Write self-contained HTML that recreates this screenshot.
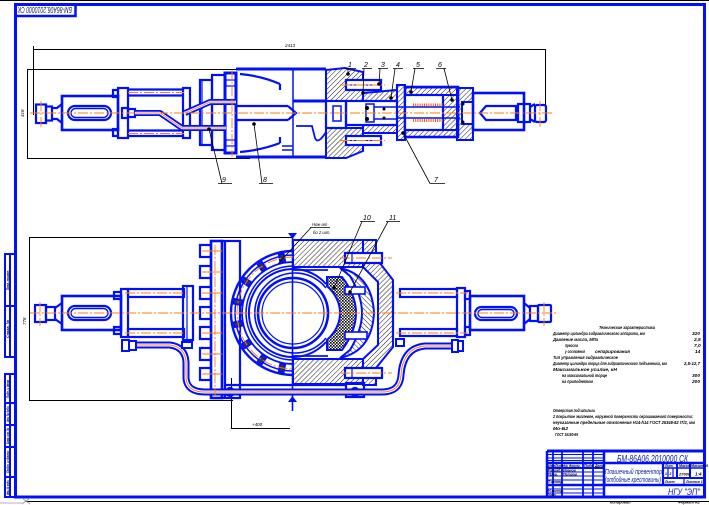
<!DOCTYPE html>
<html><head><meta charset="utf-8"><style>
html,body{margin:0;padding:0;background:#fff;}
svg{display:block;}
text{font-family:"Liberation Sans",sans-serif;font-style:italic;}
</style></head><body>
<svg width="709" height="505" viewBox="0 0 709 505" xmlns="http://www.w3.org/2000/svg">
<defs>
<pattern id="h" width="3.5" height="3.5" patternUnits="userSpaceOnUse" patternTransform="rotate(45)"><line x1="0" y1="0" x2="0" y2="3.5" stroke="#000" stroke-width="0.9"/></pattern>
<pattern id="h2" width="3.5" height="3.5" patternUnits="userSpaceOnUse" patternTransform="rotate(-45)"><line x1="0" y1="0" x2="0" y2="3.5" stroke="#000" stroke-width="0.9"/></pattern>
<pattern id="ck" width="3" height="3" patternUnits="userSpaceOnUse"><rect width="3" height="3" fill="#fff"/><rect width="1.6" height="1.6" fill="#000"/><rect x="1.5" y="1.5" width="1.5" height="1.5" fill="#222"/></pattern>
</defs>

<!-- FRAME -->
<line x1="0" y1="0.5" x2="709" y2="0.5" stroke="#000" stroke-width="1"/>
<rect x="15.5" y="4.5" width="689" height="492.5" fill="none" stroke="#0010ff" stroke-width="3"/>
<line x1="25" y1="501.5" x2="709" y2="501.5" stroke="#000" stroke-width="1"/>
<path d="M22,498 L30,504 M30,498 L22,504" stroke="#999" stroke-width="0.8"/>
<line x1="0" y1="503" x2="22" y2="503" stroke="#999" stroke-width="0.8"/>

<!-- stamp -->
<rect x="15.5" y="4.5" width="60" height="11.5" fill="none" stroke="#0010ff" stroke-width="2.5"/>
<text x="45" y="13" font-size="8" fill="#102070" text-anchor="middle" textLength="54" lengthAdjust="spacingAndGlyphs" transform="rotate(180 45 10)">БМ-86А06.2010000 СК</text>

<!-- left strips -->
<g stroke="#0010ff" stroke-width="2" fill="none">
<rect x="5" y="254" width="10" height="103"/>
<line x1="10" y1="254" x2="10" y2="357"/>
<line x1="5" y1="306" x2="15" y2="306"/>
<rect x="5" y="374" width="10" height="123"/>
<line x1="10" y1="374" x2="10" y2="497"/>
<line x1="5" y1="403" x2="15" y2="403"/>
<line x1="5" y1="425" x2="15" y2="425"/>
<line x1="5" y1="447" x2="15" y2="447"/>
<line x1="5" y1="477" x2="15" y2="477"/>
</g>
<g font-size="4" fill="#000" font-weight="bold">
<text transform="translate(9,290) rotate(-90)" textLength="20" lengthAdjust="spacingAndGlyphs">Перв. примен.</text>
<text transform="translate(9,338) rotate(-90)" textLength="18" lengthAdjust="spacingAndGlyphs">Справ. №</text>
<text transform="translate(9,398) rotate(-90)" textLength="18" lengthAdjust="spacingAndGlyphs">Подп. и дата</text>
<text transform="translate(9,422) rotate(-90)" textLength="16" lengthAdjust="spacingAndGlyphs">Инв. № дубл.</text>
<text transform="translate(9,444) rotate(-90)" textLength="16" lengthAdjust="spacingAndGlyphs">Взам. инв. №</text>
<text transform="translate(9,473) rotate(-90)" textLength="22" lengthAdjust="spacingAndGlyphs">Подп. и дата</text>
<text transform="translate(9,495) rotate(-90)" textLength="15" lengthAdjust="spacingAndGlyphs">Инв. № подл.</text>
</g>

<!-- ============ TOP VIEW ============ -->
<g stroke="#000" stroke-width="1" fill="none">
<line x1="33" y1="49.5" x2="545" y2="49.5"/>
<line x1="33.5" y1="46" x2="33.5" y2="115"/>
<line x1="545.5" y1="49" x2="545.5" y2="122"/>
<line x1="27.5" y1="70" x2="27.5" y2="158"/>
<line x1="27" y1="69.5" x2="250" y2="69.5"/>
<line x1="27" y1="158.5" x2="250" y2="158.5"/>
</g>
<text x="290" y="47" font-size="4.5" fill="#000" text-anchor="middle">2413</text>
<text transform="translate(24,117) rotate(-90)" font-size="4.5" fill="#000">418</text>

<g stroke="#0010ff" stroke-width="2" fill="url(#h)">
<path d="M326,70 L345,68 L363,72 L363,80 L346,80 L346,90 L363,90 L363,101 L326,101 Z"/>
<path d="M326,128 L363,128 L363,136 L346,136 L346,145 L363,145 L363,151 L346,158 L326,158 Z"/>
<path d="M363,93 L397,90 L397,101 L363,101 Z"/>
<path d="M363,125 L397,125 L397,133 L363,133 Z"/>
<rect x="405" y="87.5" width="52" height="7.5"/>
<rect x="405" y="130" width="52" height="7"/>
<rect x="443" y="95" width="14" height="35"/>
<path d="M457,88 L473,88 L473,102 L462,102 L462,124 L473,124 L473,140 L457,140 Z"/>
<rect x="397" y="85" width="8" height="55"/>
</g>

<g stroke="#0010ff" stroke-width="2.2" fill="none">
<rect x="36" y="104.5" width="10" height="18.5"/>
<rect x="46" y="106.5" width="6" height="14"/>
<path d="M52,108 L57,108 L62,104 M52,119 L57,119 L62,123"/>
<rect x="62" y="96" width="56" height="34" stroke-width="2.6"/>
<rect x="68" y="106" width="43" height="14" rx="7"/>
<rect x="71" y="108.5" width="37" height="9" rx="4.5" stroke-width="1.4"/>
<rect x="118" y="88" width="10" height="50"/>
<rect x="113" y="90" width="5" height="7"/>
<rect x="113" y="129" width="5" height="7"/>
<line x1="128" y1="89.5" x2="184" y2="89.5"/>
<line x1="128" y1="95.5" x2="184" y2="95.5"/>
<line x1="128" y1="130.5" x2="184" y2="130.5"/>
<line x1="128" y1="136" x2="184" y2="136"/>
<rect x="183" y="88" width="7" height="50"/>
<rect x="200" y="80" width="12" height="65"/>
<line x1="202" y1="80" x2="202" y2="145" stroke-width="1.2"/>
<rect x="212" y="75" width="13" height="75"/>
<rect x="225" y="73" width="11" height="80" stroke-width="3"/>
<rect x="226" y="80" width="9" height="6" stroke-width="1.2"/>
<rect x="226" y="140" width="9" height="6" stroke-width="1.2"/>
<rect x="122" y="108" width="6" height="10"/>
<rect x="128" y="109" width="7" height="8"/>
<path d="M236,69 L326,69" stroke-width="3"/>
<path d="M236,157 L326,157" stroke-width="3"/>
<path d="M240,74 Q262,76 280,84"/>
<path d="M240,152 Q262,150 280,143"/>
<line x1="236" y1="106" x2="288" y2="106"/>
<line x1="236" y1="120" x2="288" y2="120"/>
<path d="M288,106 L296,113 L288,120"/>
<path d="M280,84 L280,90 M280,143 L280,137"/>
<line x1="293" y1="69" x2="293" y2="157" stroke-width="1.5"/>
<path d="M293,101 L326,101" stroke-width="3"/>
<path d="M296,126 L312,126 L315,138 Q318,145 326,132" stroke-width="1.8"/>
<path d="M282,146 L293,146 M282,150 L293,150" stroke-width="1.5"/>
<rect x="326" y="101" width="20" height="27"/>
<rect x="333" y="106" width="8" height="15" stroke-width="1.5"/>
<rect x="346" y="80" width="35" height="10"/>
<line x1="350" y1="85" x2="378" y2="85" stroke-width="1"/>
<rect x="346" y="136" width="35" height="9"/>
<line x1="350" y1="140.5" x2="378" y2="140.5" stroke-width="1"/>
<rect x="346" y="101" width="51" height="24"/>
<rect x="366" y="104" width="8" height="18" stroke-width="1.5"/>
<line x1="374" y1="107" x2="397" y2="107" stroke-width="1.5"/>
<line x1="374" y1="119" x2="397" y2="119" stroke-width="1.5"/>
<rect x="405" y="87" width="53" height="50" stroke-width="2.6"/>
<rect x="405" y="95" width="38" height="35" fill="#fff"/>
<line x1="397" y1="107" x2="460" y2="107" stroke-width="1.6"/>
<line x1="397" y1="118" x2="460" y2="118" stroke-width="1.6"/>
<rect x="473" y="93" width="51" height="37" stroke-width="2.6"/>
<path d="M480,113 L486,106 L516,106 L516,120 L486,120 Z"/>
<rect x="518" y="104" width="12" height="18"/>
<path d="M530,107 L535,104 M530,119 L535,122"/>
<rect x="535" y="105" width="11" height="17" rx="2"/>
</g>
<g stroke="#ff5000" stroke-width="3" stroke-dasharray="1,1.2">
<line x1="413" y1="105" x2="443" y2="105"/>
<line x1="413" y1="120.5" x2="443" y2="120.5"/>
</g>
<g fill="none" stroke-linejoin="round">
<path d="M135,113 L160,113 L182,128 L226,128" stroke="#0010ff" stroke-width="6"/>
<path d="M135,113 L160,113 L182,128 L226,128" stroke="#fff" stroke-width="2.4"/>
<path d="M135,113 L160,113 L182,128 L226,128" stroke="#ff7f00" stroke-width="0.9"/>
<path d="M185,113 L210,102 L236,102" stroke="#0010ff" stroke-width="6"/>
<path d="M185,113 L210,102 L236,102" stroke="#fff" stroke-width="2.4"/>
<path d="M185,113 L210,102 L236,102" stroke="#ff7f00" stroke-width="0.9"/>
</g>
<g fill="#000">
<circle cx="367" cy="108" r="2"/><circle cx="367" cy="119" r="2"/>
<circle cx="384" cy="109" r="1.5"/><circle cx="384" cy="118" r="1.5"/>
<circle cx="463" cy="104" r="1.5"/><circle cx="463" cy="122" r="1.5"/>
</g>

<!-- ============ BOTTOM VIEW ============ -->
<g stroke="#000" stroke-width="1" fill="none">
<line x1="29.5" y1="237" x2="29.5" y2="400"/>
<line x1="29" y1="237.5" x2="292" y2="237.5"/>
<line x1="29" y1="400.5" x2="233" y2="400.5"/>
<line x1="231.5" y1="378" x2="231.5" y2="429"/>
<line x1="231" y1="428.5" x2="290" y2="428.5"/>
</g>
<text transform="translate(26,325) rotate(-90)" font-size="4.5" fill="#000">778</text>
<text x="252" y="426" font-size="4.5" fill="#000">+400</text>

<g stroke="#0010ff" stroke-width="2" fill="url(#h)">
<rect x="293" y="240" width="70" height="27"/>
<rect x="293" y="359" width="70" height="25"/>
<path d="M363,240 L376,240 L376,258 L393,280 L393,347 L376,368 L376,385 L363,385 L363,359 L378,345 L378,282 L363,267 Z"/>
<path d="M340,268 Q372,275 374,313 Q372,351 340,358 L350,350 Q362,330 362,313 Q362,296 350,276 Z" fill="url(#h2)"/>
</g>
<path d="M327,277 L342,277 Q356,295 356,313 Q356,331 342,350 L327,350 L327,340 Q340,328 340,313 Q340,298 327,286 Z" fill="url(#ck)" stroke="#0010ff" stroke-width="2"/>

<g stroke="#0010ff" stroke-width="2.2" fill="none">
<rect x="35" y="305" width="11" height="17"/>
<rect x="46" y="307" width="9" height="13"/>
<path d="M55,308 L62,303 M55,319 L62,324"/>
<rect x="62" y="296" width="59" height="34" stroke-width="2.6"/>
<rect x="68" y="306" width="43" height="14" rx="7"/>
<rect x="71" y="308.5" width="37" height="9" rx="4.5" stroke-width="1.4"/>
<rect x="121" y="289" width="7" height="48"/>
<rect x="114" y="292" width="7" height="7"/>
<rect x="114" y="327" width="7" height="7"/>
<rect x="128" y="289" width="56" height="8"/>
<rect x="128" y="329" width="56" height="8"/>
<rect x="183" y="286" width="10" height="54"/>
<line x1="187" y1="286" x2="187" y2="340" stroke-width="1.2"/>
<rect x="200" y="245" width="11" height="12"/>
<rect x="200" y="266" width="11" height="12"/>
<rect x="200" y="287" width="11" height="12"/>
<rect x="200" y="307" width="11" height="12"/>
<rect x="200" y="327" width="11" height="12"/>
<rect x="200" y="348" width="11" height="12"/>
<rect x="200" y="368" width="11" height="12"/>
<rect x="211" y="241" width="11" height="157" stroke-width="2.6"/>
<rect x="222" y="241" width="18" height="157"/>
<line x1="225" y1="241" x2="225" y2="398"/>
<line x1="225" y1="385" x2="347" y2="385"/>
<path d="M293,251 A62,62 0 0 0 293,375" stroke-width="2.4"/>
<path d="M293,255 A58,58 0 0 0 293,371" stroke-width="1.5"/>
<path d="M293,262 A51,51 0 0 0 293,364" stroke-width="1.8"/>
<path d="M293,266 A47,47 0 0 0 293,360" stroke-width="1.5"/>
<path d="M326,284 A44,44 0 1 0 326,342" stroke-width="2"/>
<path d="M326,288 A40,40 0 1 0 326,338" stroke-width="1.6"/>
<circle cx="293" cy="313" r="35" stroke-width="2.6" fill="#fff"/>
<circle cx="293" cy="313" r="31" stroke-width="1.2"/>
<line x1="293" y1="270" x2="328" y2="270" stroke-width="1.8"/>
<line x1="293" y1="356" x2="328" y2="356" stroke-width="1.8"/>
<line x1="292.5" y1="235" x2="292.5" y2="411" stroke-width="1.6"/>
<rect x="345" y="253" width="37" height="10" fill="#fff"/>
<line x1="352" y1="253" x2="352" y2="263" stroke-width="1.2"/>
<rect x="345" y="368" width="37" height="10" fill="#fff"/>
<line x1="352" y1="368" x2="352" y2="378" stroke-width="1.2"/>
<rect x="345" y="287" width="20" height="7" fill="#fff" stroke-width="1.6"/>
<rect x="345" y="332" width="22" height="7" fill="#fff" stroke-width="1.6"/>
<rect x="346" y="383" width="18" height="14"/>
<line x1="393" y1="285" x2="393" y2="340"/>
<rect x="400" y="289" width="57" height="8"/>
<rect x="400" y="329" width="57" height="7"/>
<rect x="457" y="288" width="8" height="49"/>
<rect x="465" y="291" width="5" height="8"/>
<rect x="465" y="327" width="5" height="8"/>
<rect x="470" y="296" width="54" height="34" stroke-width="2.6"/>
<rect x="475" y="307" width="42" height="13" rx="6.5"/>
<rect x="478" y="309.5" width="36" height="8" rx="4" stroke-width="1.4"/>
<path d="M524,303 L530,308 M524,324 L530,319"/>
<rect x="530" y="306" width="8" height="15"/>
<rect x="538" y="305" width="13" height="17" rx="1"/>
<circle cx="230" cy="392" r="4" fill="#fff"/>
<circle cx="355" cy="392" r="4" fill="#fff"/>
</g>
<g stroke="#0010ff" stroke-width="1.8" fill="#334">
<rect x="-4" y="-2.5" width="8" height="5" transform="translate(282,258) rotate(-101)"/>
<rect x="-4" y="-2.5" width="8" height="5" transform="translate(262,266.5) rotate(-124)"/>
<rect x="-4" y="-2.5" width="8" height="5" transform="translate(246.5,282) rotate(-146)"/>
<rect x="-4" y="-2.5" width="8" height="5" transform="translate(238,302) rotate(-169)"/>
<rect x="-4" y="-2.5" width="8" height="5" transform="translate(238,324) rotate(-191)"/>
<rect x="-4" y="-2.5" width="8" height="5" transform="translate(246.5,344) rotate(-214)"/>
<rect x="-4" y="-2.5" width="8" height="5" transform="translate(262,359.5) rotate(-236)"/>
<rect x="-4" y="-2.5" width="8" height="5" transform="translate(282,368) rotate(-259)"/>
</g>
<path d="M288,233 L297,233 L292.5,239 Z" fill="#0010ff"/>
<path d="M288,402 L297,402 L292.5,396 Z" fill="#0010ff"/>

<g fill="none" stroke-linejoin="round">
<path d="M135,345 L170,345 Q185,347 186,362 L186,378 Q187,392 205,392 L382,392 Q400,392 401,375 Q403,348 425,346 L453,346" stroke="#0010ff" stroke-width="7"/>
<path d="M135,345 L170,345 Q185,347 186,362 L186,378 Q187,392 205,392 L382,392 Q400,392 401,375 Q403,348 425,346 L453,346" stroke="#fff" stroke-width="3"/>
<path d="M135,345 L170,345 Q185,347 186,362 L186,378 Q187,392 205,392 L382,392 Q400,392 401,375 Q403,348 425,346 L453,346" stroke="#ff7f00" stroke-width="1"/>
</g>
<g stroke="#0010ff" stroke-width="2" fill="#fff">
<rect x="122" y="340" width="7" height="11"/>
<rect x="129" y="341" width="7" height="9"/>
<rect x="452" y="340" width="6" height="12"/>
<rect x="458" y="341" width="5" height="10"/>
<rect x="182" y="342" width="10" height="6"/>
<rect x="396" y="339" width="8" height="7"/>
</g>

<g stroke="#ff7f00" stroke-width="0.9" stroke-dasharray="10,2,2,2" fill="none">
<line x1="30" y1="113" x2="552" y2="113"/>
<line x1="30" y1="313" x2="556" y2="313"/>
<line x1="232" y1="70" x2="232" y2="157"/>
<line x1="41" y1="101" x2="41" y2="127"/>
<line x1="540" y1="101" x2="540" y2="127"/>
<line x1="40" y1="302" x2="40" y2="326"/>
<line x1="544" y1="302" x2="544" y2="326"/>
<line x1="128" y1="92.5" x2="184" y2="92.5"/>
<line x1="128" y1="133.5" x2="184" y2="133.5"/>
<line x1="125" y1="293" x2="188" y2="293"/>
<line x1="125" y1="333" x2="188" y2="333"/>
<line x1="396" y1="293" x2="468" y2="293"/>
<line x1="396" y1="333" x2="468" y2="333"/>
<line x1="215" y1="245" x2="215" y2="396"/>
<path d="M293,257 A56,56 0 0 0 293,369"/>
<line x1="340" y1="258" x2="392" y2="258"/>
<line x1="340" y1="373" x2="392" y2="373"/>
<line x1="340" y1="85" x2="385" y2="85"/>
<line x1="340" y1="140.5" x2="385" y2="140.5"/>
</g>
<g stroke="#ff7f00" stroke-width="0.9">
<line x1="202" y1="251" x2="222" y2="251"/><line x1="202" y1="272" x2="222" y2="272"/>
<line x1="202" y1="293" x2="222" y2="293"/><line x1="202" y1="333" x2="222" y2="333"/>
<line x1="202" y1="354" x2="222" y2="354"/><line x1="202" y1="374" x2="222" y2="374"/>
</g>

<g stroke="#000" stroke-width="0.8" fill="none">
<path d="M345,68.5 L356,68.5 M348,68.5 L348,74"/>
<path d="M362,68.5 L372,68.5 M364,68.5 L363,93"/>
<path d="M378,68.5 L388,68.5 M380,68.5 L379,84"/>
<path d="M393,68.5 L403,68.5 M395,68.5 L391,98"/>
<path d="M413,68.5 L424,68.5 M415,68.5 L411,92"/>
<path d="M436,68.5 L446,68.5 M444,68.5 L452,100"/>
<path d="M430,183.5 L445,183.5 M430,183.5 L403,133"/>
<path d="M218,183.5 L232,183.5 M222,183.5 L209,129"/>
<path d="M259,183.5 L273,183.5 M262,183.5 L254,124"/>
<path d="M360,221.5 L375,221.5 M362,221.5 L334,288"/>
<path d="M386,221.5 L400,221.5 M388,221.5 L350,292"/>
<path d="M310,227.5 L330,227.5 M311,227.5 L278,264"/>
</g>
<g fill="#000">
<circle cx="348" cy="74" r="1.8"/><circle cx="363" cy="93" r="1.8"/><circle cx="379" cy="84" r="1.8"/>
<circle cx="391" cy="98" r="1.8"/><circle cx="411" cy="92" r="1.8"/><circle cx="452" cy="100" r="1.8"/>
<circle cx="403" cy="133" r="1.8"/><circle cx="209" cy="129" r="1.8"/><circle cx="254" cy="124" r="1.8"/>
<circle cx="334" cy="288" r="1.8"/><circle cx="350" cy="292" r="1.8"/>
</g>
<g font-size="7" fill="#000">
<text x="348" y="67">1</text><text x="364" y="67">2</text><text x="381" y="67">3</text>
<text x="396" y="67">4</text><text x="416" y="67">5</text><text x="438" y="67">6</text>
<text x="434" y="182">7</text><text x="222" y="182">9</text><text x="263" y="182">8</text>
<text x="363" y="220">10</text><text x="389" y="220">11</text>
</g>
<text x="312" y="226" font-size="4.2" fill="#000">Нож-ат</text>
<text x="313" y="234" font-size="4.2" fill="#000">бо 2 шт.</text>

<g font-size="4.8" fill="#000" font-weight="bold">
<text x="599" y="329" textLength="56" lengthAdjust="spacingAndGlyphs">Технические характеристики</text>
<text x="553" y="335" textLength="92" lengthAdjust="spacingAndGlyphs">Диаметр цилиндра гидравлического аппарата, мм</text>
<text x="692" y="335">320</text>
<text x="553" y="341" textLength="45" lengthAdjust="spacingAndGlyphs">Давление масла, МПа</text>
<text x="694" y="341">2,5</text>
<text x="565" y="347" textLength="13" lengthAdjust="spacingAndGlyphs">прессов</text>
<text x="694" y="347">7,0</text>
<text x="565" y="353" textLength="20" lengthAdjust="spacingAndGlyphs">у состояния</text>
<text x="595" y="353" textLength="35" lengthAdjust="spacingAndGlyphs">сепарирования</text>
<text x="695" y="353">14</text>
<text x="553" y="359" textLength="65" lengthAdjust="spacingAndGlyphs">Тип управления гидравлическое</text>
<text x="553" y="365" textLength="114" lengthAdjust="spacingAndGlyphs">Диаметр цилиндра торца для гидравлического подъемника, мм</text>
<text x="684" y="365" textLength="16" lengthAdjust="spacingAndGlyphs">2,5-12,7</text>
<text x="553" y="371" textLength="64" lengthAdjust="spacingAndGlyphs">Максимальное усилие, кН</text>
<text x="562" y="377" textLength="45" lengthAdjust="spacingAndGlyphs">на максимальной торце</text>
<text x="692" y="377">300</text>
<text x="562" y="383" textLength="31" lengthAdjust="spacingAndGlyphs">на приподнятом</text>
<text x="692" y="383">200</text>
</g>
<g font-size="4.8" fill="#000" font-weight="bold">
<text x="553" y="412" textLength="42" lengthAdjust="spacingAndGlyphs">Отверстия под шпильки</text>
<text x="553" y="418" textLength="140" lengthAdjust="spacingAndGlyphs">2 покрытие эмалевое, наружной поверхности окрашиваемой поверхности:</text>
<text x="553" y="424" textLength="142" lengthAdjust="spacingAndGlyphs">неуказанные предельные отклонения Н14-h14 ГОСТ 25346-82 IT/2, мм</text>
<text x="553" y="430" textLength="15" lengthAdjust="spacingAndGlyphs">Мо-Б2</text>
<text x="555" y="436" textLength="23" lengthAdjust="spacingAndGlyphs">ГОСТ 15150-69</text>
</g>

<g stroke="#0010ff" fill="none">
<line x1="547" y1="451" x2="705" y2="451" stroke-width="3"/>
<line x1="547" y1="451" x2="547" y2="497" stroke-width="2.5"/>
<line x1="553" y1="451" x2="553" y2="497" stroke-width="1.8"/>
<line x1="562" y1="451" x2="562" y2="497" stroke-width="1.8"/>
<line x1="583" y1="451" x2="583" y2="497" stroke-width="1.8"/>
<line x1="593" y1="451" x2="593" y2="497" stroke-width="1.8"/>
<line x1="604" y1="451" x2="604" y2="497" stroke-width="2.5"/>
<line x1="547" y1="463" x2="705" y2="463" stroke-width="2.5"/>
<line x1="547" y1="485" x2="705" y2="485" stroke-width="2.5"/>
<line x1="663" y1="463" x2="663" y2="485" stroke-width="2.2"/>
<line x1="668" y1="468" x2="668" y2="478" stroke-width="1.2"/>
<line x1="673" y1="468" x2="673" y2="478" stroke-width="1.2"/>
<line x1="677" y1="463" x2="677" y2="478" stroke-width="2"/>
<line x1="690" y1="463" x2="690" y2="478" stroke-width="2"/>
<line x1="663" y1="468" x2="705" y2="468" stroke-width="1.5"/>
<line x1="663" y1="478" x2="705" y2="478" stroke-width="2"/>
<line x1="684" y1="478" x2="684" y2="485" stroke-width="1.2"/>
<g stroke-width="1">
<line x1="547" y1="454.5" x2="604" y2="454.5"/>
<line x1="547" y1="458" x2="604" y2="458"/>
<line x1="547" y1="460.5" x2="604" y2="460.5"/>
<line x1="547" y1="468" x2="604" y2="468" stroke-width="2"/>
<line x1="547" y1="472" x2="604" y2="472"/>
<line x1="547" y1="476" x2="604" y2="476"/>
<line x1="547" y1="480" x2="604" y2="480"/>
<line x1="547" y1="489" x2="604" y2="489"/>
<line x1="547" y1="493" x2="604" y2="493"/>
</g>
</g>
<text x="617" y="462" font-size="10" fill="#1020a0" textLength="71" lengthAdjust="spacingAndGlyphs">БМ-86А06.2010000 СК</text>
<text x="605" y="474" font-size="7" fill="#1020a0" textLength="57" lengthAdjust="spacingAndGlyphs">Плашечный превентор</text>
<text x="605" y="482" font-size="7" fill="#1020a0" textLength="56" lengthAdjust="spacingAndGlyphs">(отбойные крестовины)</text>
<text x="668" y="495" font-size="9" fill="#1020a0" textLength="32" lengthAdjust="spacingAndGlyphs">НГУ "ЭП"</text>
<g font-size="3.5" fill="#000" font-weight="bold">
<text x="665" y="467">Лит.</text><text x="679" y="467">Масса</text><text x="691" y="467">Масштаб</text>
<text x="665" y="475">1</text><text x="669.5" y="475">2</text><text x="679" y="475.5" font-size="4">27000</text><text x="695" y="475.5" font-size="4.5">1:4</text>
<text x="665" y="483">Лист</text><text x="686" y="483">Листов 1</text>
<text x="548" y="467">Изм.</text><text x="555" y="467">Лист</text><text x="564" y="467">№ докум.</text><text x="584" y="467">Подп.</text><text x="595" y="467">Дата</text>
<text x="548" y="471.5">Разраб.</text><text x="563" y="471.5">Иванов</text>
<text x="548" y="475.5">Пров.</text><text x="563" y="475.5">Петров</text>
<text x="548" y="483">Т.контр.</text>
<text x="548" y="492">Н.контр.</text>
<text x="548" y="496">Утв.</text>
<text x="610" y="503.5" font-size="3.8">Копировал</text>
<text x="678" y="503.5" font-size="3.8">Формат А2</text>
</g>
</svg>
</body></html>
